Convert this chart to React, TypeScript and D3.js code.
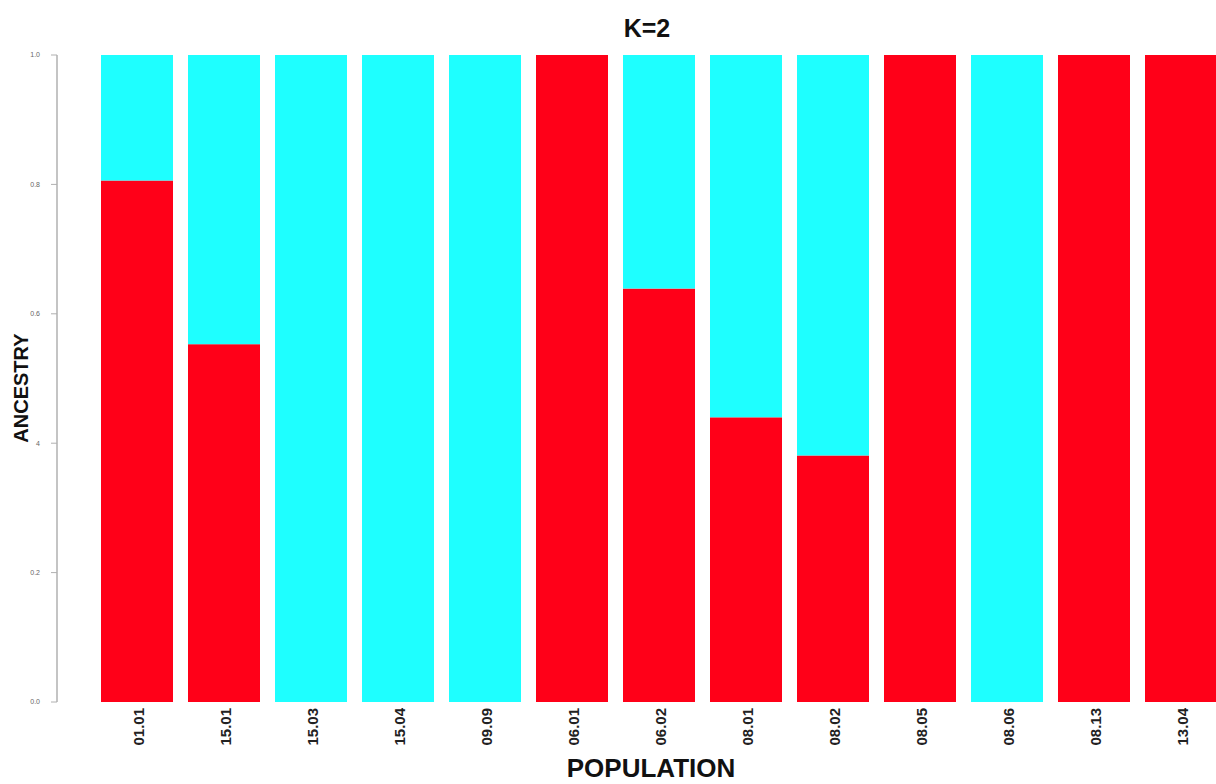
import React from "react";
import * as d3 from "d3";

// Population codes along the x axis
const populations = [
  "01.01", "15.01", "15.03", "15.04", "09.09", "06.01", "06.02",
  "08.01", "08.02", "08.05", "08.06", "08.13", "13.04",
];

// Ancestry proportions for the two clusters (K=2)
const cluster1 = [0.806, 0.553, 0, 0, 0, 1, 0.639, 0.44, 0.381, 1, 0, 1, 1];
const cluster2 = [0.194, 0.447, 1, 1, 1, 0, 0.361, 0.56, 0.619, 0, 1, 0, 0];

// Y axis ticks and their labels
const yTicks = [0, 0.2, 0.4, 0.6, 0.8, 1.0];
const yTickLabels = ["0.0", "0.2", "4", "0.6", "0.8", "1.0"];

const clusterColors = ["#FF0018", "#1EFFFF"];

const W = 1216;
const H = 784;

export default function App() {
  const x = d3
    .scaleBand<string>()
    .domain(populations)
    .range([101, 101 + populations.length * 87 - 15])
    .paddingInner(15 / 87)
    .paddingOuter(0);

  const y = d3.scaleLinear().domain([0, 1]).range([702, 55]);

  const rows = populations.map((p, i) => ({ pop: p, c1: cluster1[i], c2: cluster2[i] }));
  const stacked = d3.stack<any>().keys(["c1", "c2"])(rows);

  const font = "'Liberation Sans', Arial, Helvetica, sans-serif";

  return (
    <svg
      width={W}
      height={H}
      style={{ position: "absolute", left: 0, top: 0, background: "#fff", display: "block" }}
      fontFamily={font}
    >
      {/* stacked ancestry bars */}
      {stacked.map((layer, li) => (
        <g key={layer.key} fill={clusterColors[li]}>
          {layer.map((d, i) => {
            const h = y(d[0]) - y(d[1]);
            if (h <= 0) return null;
            return (
              <rect
                key={populations[i]}
                x={x(populations[i])}
                y={y(d[1])}
                width={x.bandwidth()}
                height={h}
              />
            );
          })}
        </g>
      ))}

      {/* y axis */}
      <g>
        <line x1={57} x2={57} y1={y(0)} y2={y(1)} stroke="#b0b0b0" strokeWidth={1.5} />
        {yTicks.map((t, i) => (
          <g key={t} transform={`translate(0,${y(t)})`}>
            <line x1={51} x2={57} stroke="#b0b0b0" strokeWidth={1} />
            <text
              x={40}
              dy="0.35em"
              textAnchor="end"
              fontSize={7}
              fill="#666"
            >
              {yTickLabels[i]}
            </text>
          </g>
        ))}
      </g>

      {/* population labels */}
      {populations.map((p) => {
        const cx = (x(p) as number) + x.bandwidth() / 2 + 2;
        return (
          <text
            key={p}
            transform={`translate(${cx},708) rotate(-90)`}
            textAnchor="end"
            dy="0.35em"
            fontSize={15}
            fontWeight="bold"
            fill="#222"
          >
            {p}
          </text>
        );
      })}

      {/* titles */}
      <text x={647} y={37} textAnchor="middle" fontSize={25} fontWeight="bold" fill="#111">
        K=2
      </text>
      <text x={651} y={777} textAnchor="middle" fontSize={26} fontWeight="bold" fill="#111">
        POPULATION
      </text>
      <text
        transform="translate(28,388) rotate(-90)"
        textAnchor="middle"
        fontSize={20}
        fontWeight="bold"
        fill="#111"
      >
        ANCESTRY
      </text>
    </svg>
  );
}
